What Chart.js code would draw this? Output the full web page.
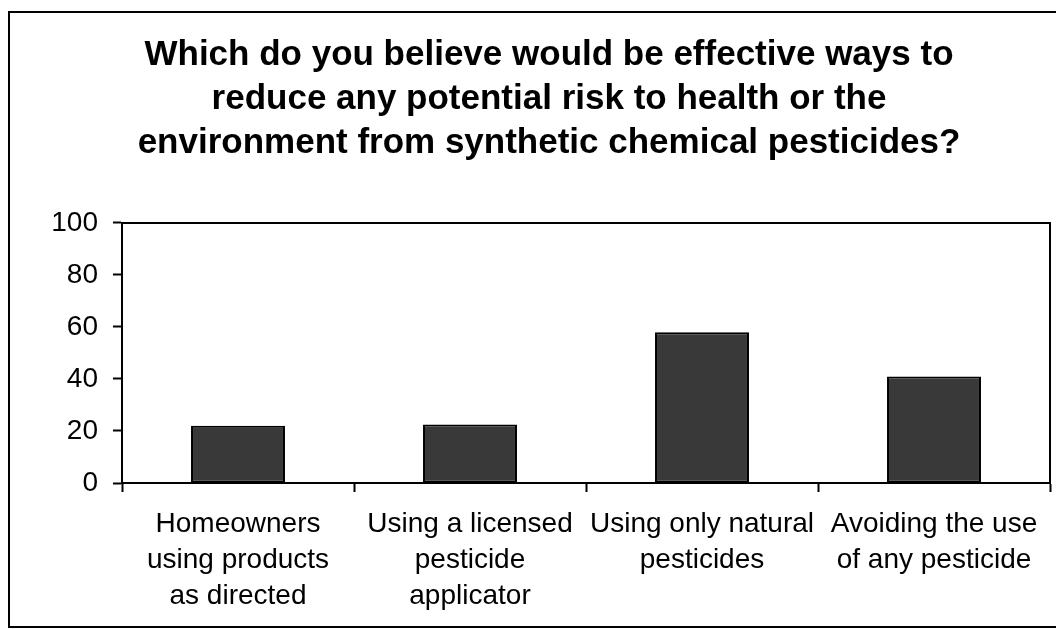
<!DOCTYPE html>
<html>
<head>
<meta charset="utf-8">
<script src="https://cdn.jsdelivr.net/npm/chart.js@4"></script>
<style>
  body { margin: 0; background: #fff; }
  #wrap { position: relative; width: 1056px; height: 629px; }
</style>
</head>
<body>
<div id="wrap"><canvas id="chart1" width="1056" height="629"></canvas></div>
<script>
const titleLines = [
    'Which do you believe would be effective ways to',
    'reduce any potential risk to health or the',
    'environment from synthetic chemical pesticides?'
];
const categories = [
    ['Homeowners', 'using products', 'as directed'],
    ['Using a licensed', 'pesticide', 'applicator'],
    ['Using only natural', 'pesticides'],
    ['Avoiding the use', 'of any pesticide']
];
const percentages = [22, 22.5, 58, 41];
const yTicks = [0, 20, 40, 60, 80, 100];

const fontFamily = '"Liberation Sans", Arial, sans-serif';

// frame round the whole picture and the box round the plot area
const framePlugin = {
    id: 'frame',
    beforeDraw(chart) {
        const c = chart.ctx;
        c.save();
        c.fillStyle = '#fff';
        c.fillRect(0, 0, chart.width, chart.height);
        c.strokeStyle = '#000';
        c.lineWidth = 2;
        c.strokeRect(9, 12, 1100, 615);
        c.restore();
    },
    afterDatasetsDraw(chart) {
        const a = chart.chartArea;
        const c = chart.ctx;
        c.save();
        c.strokeStyle = '#000';
        c.lineWidth = 2;
        c.beginPath();
        c.moveTo(a.left, a.top);
        c.lineTo(a.right, a.top);
        c.lineTo(a.right, a.bottom);
        c.stroke();
        c.restore();
    }
};

document.addEventListener('DOMContentLoaded', function() {
    const ctx1 = document.getElementById('chart1').getContext('2d');

    const data1 = {
        labels: categories,
        datasets: [{
            data: percentages,
            backgroundColor: '#393939',
            borderColor: '#000',
            borderWidth: 2,
            borderSkipped: false,
            categoryPercentage: 1,
            barPercentage: 0.405
        }]
    };

    const config1 = {
        type: 'bar',
        data: data1,
        options: {
            responsive: false,
            animation: false,
            layout: {
                padding: { left: 48, right: 6, top: 0, bottom: 0 }
            },
            plugins: {
                legend: { display: false },
                tooltip: { enabled: false },
                title: {
                    display: true,
                    text: titleLines,
                    color: '#000',
                    font: { family: fontFamily, size: 35, weight: 'bold', lineHeight: 1.257 },
                    padding: { top: 33, bottom: 58 }
                }
            },
            scales: {
                x: {
                    grid: {
                        drawOnChartArea: false,
                        drawTicks: true,
                        tickLength: 9,
                        tickColor: '#000',
                        tickWidth: 2,
                        offset: true
                    },
                    border: { display: true, color: '#000', width: 2 },
                    ticks: {
                        color: '#000',
                        font: { family: fontFamily, size: 28, lineHeight: 1.29 },
                        maxRotation: 0,
                        autoSkip: false,
                        padding: 14
                    },
                    afterFit(axis) { axis.height = 146; }
                },
                y: {
                    min: 0,
                    max: 100,
                    afterBuildTicks(axis) {
                        axis.ticks = yTicks.map(v => ({ value: v }));
                    },
                    grid: {
                        drawOnChartArea: false,
                        drawTicks: true,
                        tickLength: 9,
                        tickColor: '#000',
                        tickWidth: 2
                    },
                    border: { display: true, color: '#000', width: 2 },
                    ticks: {
                        color: '#000',
                        font: { family: fontFamily, size: 28 },
                        padding: 15
                    },
                    afterFit(axis) { axis.width = 74; }
                }
            }
        },
        plugins: [framePlugin]
    };

    const chart1 = new Chart(ctx1, config1);
});
</script>
</body>
</html>
